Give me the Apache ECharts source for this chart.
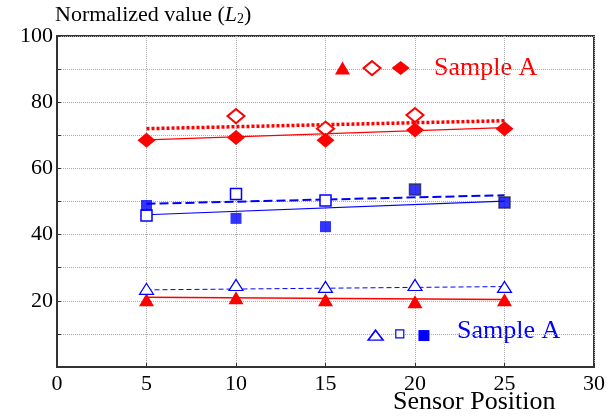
<!DOCTYPE html>
<html>
<head>
<meta charset="utf-8">
<script src="https://cdn.jsdelivr.net/npm/echarts@6/dist/echarts.min.js"></script>
<style>
  html, body { margin: 0; padding: 0; background: #fff; }
  #chart { width: 608px; height: 418px; }
</style>
</head>
<body>
<div id="chart"></div>
<script>
  // data
  const positions = [5, 10, 15, 20, 25];
  const redTriangles = [20.3, 20.9, 20.3, 19.7, 20.3];
  const blueTriangles = [23.6, 24.8, 24.2, 24.8, 24.2];
  const blueOpenSquares = [45.8, 52.3, 50.3, null, null];
  const blueFilledSquares = [48.8, 44.9, 42.4, 53.6, 49.7];
  const redOpenDiamonds = [null, 75.8, 72.0, 76.1, null];
  const redFilledDiamonds = [68.5, 69.3, 68.5, 71.6, 72.0];

  // trend lines: value at x=5 and x=25
  const trendX = [5, 25];
  const redTriTrend = [21.1, 20.4];
  const blueTriTrend = [23.3, 24.3];
  const blueSolidTrend = [46.0, 50.1];
  const blueDashTrend = [49.3, 51.9];
  const redSolidTrend = [68.6, 72.3];
  const redDotTrend = [72.0, 74.4];

  // key markers placed inside the plot
  const redKeyX = [15.95, 17.6, 19.2];
  const redKeyY = 90.3;
  const blueKeyX = [17.8, 19.15, 20.5];
  const blueKeyY = [9.6, 10, 9.5];

  const RED = '#ff0000';
  const BLUE = '#0000ff';
  const FONT = '"Liberation Serif", "DejaVu Serif", serif';

  const pts = (ys) => positions.map((x, i) => [x, ys[i]]);
  const trend = (ys) => trendX.map((x, i) => [x, ys[i]]);

  const chart = echarts.init(document.getElementById('chart'));

  const lineSeries = (data, color, width, type) => ({
    type: 'line', data: trend(data), symbol: 'none', silent: true,
    lineStyle: { color: color, width: width, type: type }, z: 2
  });

  const markerSeries = (data, symbol, size, fill, stroke, bw) => ({
    type: 'scatter', data: data, symbol: symbol, symbolSize: size,
    itemStyle: { color: fill, borderColor: stroke, borderWidth: bw, opacity: 1 }, z: 3
  });

  const option = {
    animation: false,
    grid: { left: 57, right: 11, top: 36, bottom: 51, show: true, borderColor: '#333', borderWidth: 2 },
    xAxis: {
      type: 'value', min: 0, max: 30, interval: 5,
      axisLine: { show: true, lineStyle: { color: '#333', width: 2 } },
      axisTick: { show: true, inside: true, length: 4, lineStyle: { color: '#333' } },
      axisLabel: { color: '#000', fontFamily: FONT, fontSize: 22, margin: 6 },
      splitLine: { show: true, lineStyle: { color: '#aaa', type: 'dotted', width: 1 } }
    },
    yAxis: {
      type: 'value', min: 0, max: 100, interval: 10,
      axisLine: { show: true, lineStyle: { color: '#333', width: 2 } },
      axisTick: { show: true, inside: true, length: 4, lineStyle: { color: '#333' } },
      axisLabel: {
        color: '#000', fontFamily: FONT, fontSize: 22, margin: 4,
        formatter: (v) => (v > 0 && v % 20 === 0 ? String(v) : '')
      },
      splitLine: { show: true, lineStyle: { color: '#aaa', type: 'dotted', width: 1 } }
    },
    graphic: [
      {
        type: 'text', left: 55, top: 4,
        style: {
          text: 'Normalized value ({i|L}{s|2})',
          fill: '#000', font: '22px ' + FONT,
          rich: {
            i: { fontFamily: FONT, fontSize: 22, fontStyle: 'italic', fill: '#000' },
            s: { fontFamily: FONT, fontSize: 14, fill: '#000', padding: [9, 0, 0, 0] }
          }
        }
      },
      {
        type: 'text', left: 393, top: 389,
        style: { text: 'Sensor Position', fill: '#000', font: '26px ' + FONT }
      },
      {
        type: 'text', left: 434, top: 55,
        style: { text: 'Sample A', fill: RED, font: '26px ' + FONT }
      },
      {
        type: 'text', left: 457, top: 318,
        style: { text: 'Sample A', fill: BLUE, font: '26px ' + FONT }
      }
    ],
    series: [
      lineSeries(redTriTrend, RED, 1.5, 'solid'),
      lineSeries(blueTriTrend, BLUE, 1, [5, 3]),
      lineSeries(blueSolidTrend, BLUE, 1.2, 'solid'),
      lineSeries(blueDashTrend, BLUE, 2, [9, 4]),
      lineSeries(redSolidTrend, RED, 1.2, 'solid'),
      lineSeries(redDotTrend, RED, 3.5, [3, 2]),
      markerSeries(pts(redTriangles), 'triangle', [15, 13], RED, RED, 0),
      markerSeries(pts(blueTriangles), 'triangle', [14, 11], '#fff', BLUE, 1.2),
      markerSeries(pts(blueOpenSquares).filter(p => p[1] != null), 'rect', 11, '#fff', BLUE, 1.5),
      {
        type: 'scatter', symbol: 'rect', symbolSize: 11, z: 3,
        data: pts(blueFilledSquares).map((p, i) => ({
          value: p,
          itemStyle: { color: BLUE, borderColor: i >= 3 ? '#222244' : BLUE, borderWidth: i >= 3 ? 1.5 : 0 }
        }))
      },
      markerSeries(pts(redOpenDiamonds).filter(p => p[1] != null), 'diamond', [17, 14], '#fff', RED, 2),
      markerSeries(pts(redFilledDiamonds), 'diamond', [18, 15], RED, RED, 0),
      // key markers
      markerSeries([[redKeyX[0], redKeyY]], 'triangle', [15, 13], RED, RED, 0),
      markerSeries([[redKeyX[1], redKeyY]], 'diamond', [17, 14], '#fff', RED, 2),
      markerSeries([[redKeyX[2], redKeyY]], 'diamond', [18, 14], RED, RED, 0),
      markerSeries([[blueKeyX[0], blueKeyY[0]]], 'triangle', [15, 10], '#fff', BLUE, 1.5),
      markerSeries([[blueKeyX[1], blueKeyY[1]]], 'rect', 8, '#fff', BLUE, 1.2),
      markerSeries([[blueKeyX[2], blueKeyY[2]]], 'rect', 11, BLUE, BLUE, 0)
    ]
  };

  chart.setOption(option);
</script>
</body>
</html>
